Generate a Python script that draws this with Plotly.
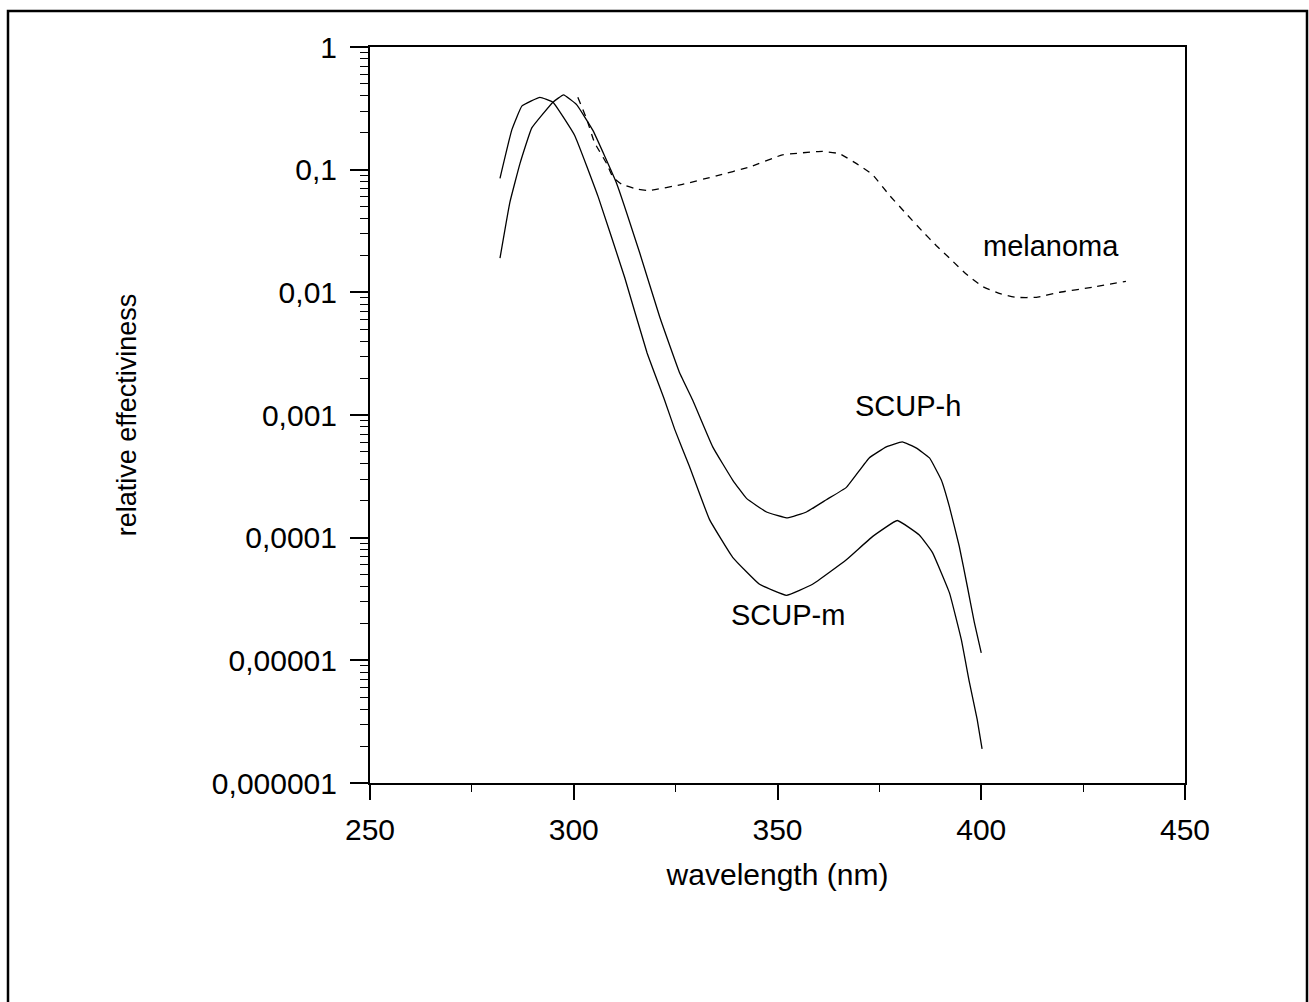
import math
import plotly.graph_objects as go

# SCUP-m (murine) action spectrum
scup_m_wl = [281.9, 284.8, 287.3, 291.7, 294.9, 300.2, 306.0, 312.5, 318.0, 322.3, 324.8,
             328.4, 333.3, 339.0, 345.6, 352.2, 358.6, 366.9, 373.3, 379.4, 384.8,
             388.0, 392.2, 395.1, 397.1, 399.0, 400.2]
scup_m_val = [0.085, 0.211, 0.331, 0.389, 0.355, 0.191, 0.060, 0.0132, 0.0032, 0.00132, 0.00076,
              0.00038, 0.000141, 0.0000692, 0.0000417, 0.0000339, 0.0000417, 0.0000661, 0.000102,
              0.000138, 0.000105, 0.0000759, 0.0000355, 0.0000148, 0.0000066, 0.0000033, 0.0000019]

# SCUP-h (human) action spectrum
scup_h_wl = [281.9, 284.3, 286.8, 289.7, 294.9, 297.5, 300.7, 304.7, 310.5, 316.2, 321.1,
             326.0, 329.2, 334.1, 339.0, 342.4, 347.3, 352.5, 357.1, 362.0, 366.9,
             372.5, 376.7, 380.6, 384.0, 387.3, 390.2, 392.2, 394.6, 396.6, 398.3, 400.0]
scup_h_val = [0.019, 0.0537, 0.112, 0.219, 0.355, 0.407, 0.339, 0.209, 0.0776, 0.0209, 0.0063,
              0.0022, 0.00132, 0.00055, 0.000295, 0.000209, 0.000162, 0.000145, 0.000162, 0.000204,
              0.000257, 0.000447, 0.00055, 0.000603, 0.00054, 0.000447, 0.000295, 0.000178,
              0.0000851, 0.0000398, 0.0000204, 0.0000115]

# melanoma action spectrum
mel_wl = [301.0, 303.2, 305.1, 308.1, 309.6, 311.8, 315.7, 318.6, 326.7, 335.0, 343.1, 351.2,
          361.0, 365.2, 369.4, 373.3, 377.5, 381.6, 385.5, 389.0, 392.5, 396.3, 400.2, 404.4,
          408.6, 413.5, 419.1, 427.2, 435.5]
mel_val = [0.389, 0.257, 0.166, 0.112, 0.087, 0.0759, 0.0692, 0.0676, 0.0759, 0.0891, 0.105, 0.132,
           0.141, 0.135, 0.112, 0.0912, 0.0617, 0.0437, 0.0316, 0.024, 0.0186, 0.0141, 0.0112,
           0.0098, 0.0091, 0.0091, 0.0100, 0.0110, 0.0123]

y_tickvals = [1e-6, 1e-5, 1e-4, 1e-3, 1e-2, 1e-1, 1]
y_ticktext = ["0,000001", "0,00001", "0,0001", "0,001", "0,01", "0,1", "1"]
x_tickvals = [250, 300, 350, 400, 450]
x_minor = [275, 325, 375, 425]
y_minor = [m * 10 ** e for e in range(-6, 0) for m in range(2, 10)]

label_text = ["melanoma", "SCUP-h", "SCUP-m"]
label_x = [417.2, 382.1, 352.5]
label_y = [0.024, 0.00118, 0.0000235]

font_family = "Liberation Sans, Arial, sans-serif"

fig = go.Figure()
fig.add_trace(go.Scatter(x=scup_m_wl, y=scup_m_val, mode="lines", name="SCUP-m",
                         line=dict(color="black", width=1.3, shape="spline", smoothing=0.3)))
fig.add_trace(go.Scatter(x=scup_h_wl, y=scup_h_val, mode="lines", name="SCUP-h",
                         line=dict(color="black", width=1.3, shape="spline", smoothing=0.3)))
fig.add_trace(go.Scatter(x=mel_wl, y=mel_val, mode="lines", name="melanoma",
                         line=dict(color="black", width=1.3, dash="7px,6px",
                                   shape="spline", smoothing=0.3)))

for text, x, y in zip(label_text, label_x, label_y):
    fig.add_annotation(x=x, y=math.log10(y), yref="y", xref="x", text=text, showarrow=False,
                       font=dict(size=29, color="black", family=font_family))

fig.update_xaxes(range=[250, 450], tickmode="array", tickvals=x_tickvals,
                 ticks="outside", ticklen=15, tickwidth=1.5, tickcolor="black",
                 showline=True, linecolor="black", linewidth=2, mirror=True,
                 showgrid=False, zeroline=False,
                 tickfont=dict(size=30, color="black", family=font_family),
                 ticklabelstandoff=4,
                 minor=dict(tickmode="array", tickvals=x_minor, ticks="outside",
                            ticklen=7, tickwidth=1.2, tickcolor="black", showgrid=False),
                 title=dict(text="wavelength (nm)", standoff=19,
                            font=dict(size=30, color="black", family=font_family)))
fig.update_yaxes(type="log", range=[-6, 0], tickmode="array", tickvals=y_tickvals,
                 ticktext=y_ticktext, ticks="outside", ticklen=18, tickwidth=1.5,
                 tickcolor="black", showline=True, linecolor="black", linewidth=2,
                 mirror=True, showgrid=False, zeroline=False,
                 tickfont=dict(size=30, color="black", family=font_family),
                 ticklabelstandoff=7,
                 minor=dict(tickmode="array", tickvals=y_minor, ticks="outside",
                            ticklen=8, tickwidth=1, tickcolor="black", showgrid=False),
                 title=dict(text="relative effectiviness", standoff=67,
                            font=dict(size=27, color="black", family=font_family)))

# outer frame around the figure
fig.add_shape(type="rect", xref="paper", yref="paper",
              x0=(8 - 370) / 815, x1=(1307 - 370) / 815,
              y0=(783 - 1004) / 736, y1=(783 - 11) / 736,
              line=dict(color="black", width=2.5), fillcolor="rgba(0,0,0,0)", layer="above")

fig.update_layout(width=1309, height=1002, showlegend=False,
                  margin=dict(l=370, r=124, t=47, b=219),
                  plot_bgcolor="white", paper_bgcolor="white",
                  font=dict(family=font_family, color="black"))

fig.write_html("out.html")
